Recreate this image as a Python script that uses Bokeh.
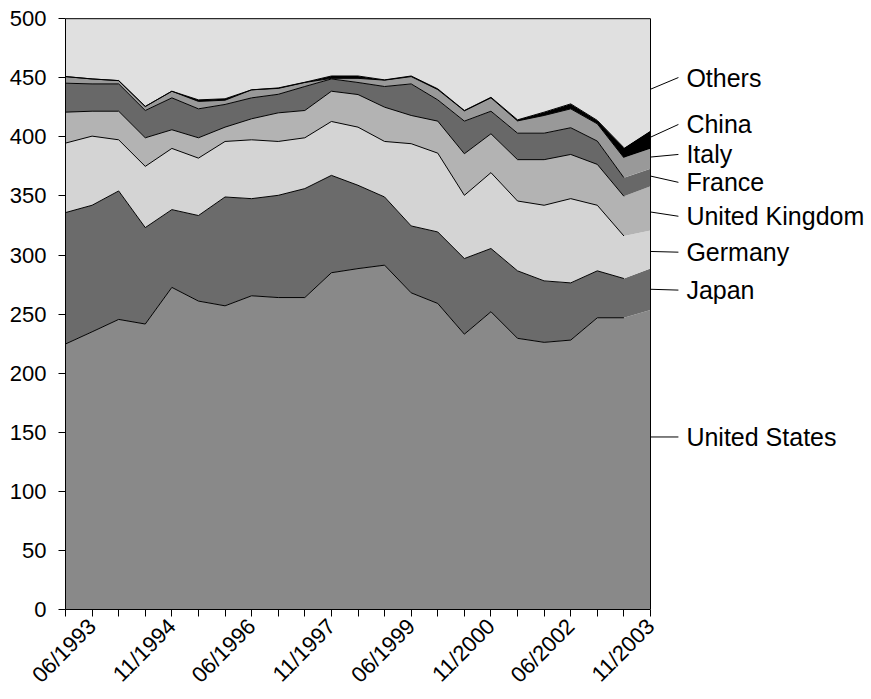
import math
import numpy as np
from bokeh.plotting import figure
from bokeh.models import Range1d, FixedTicker, ColumnDataSource
from bokeh.core.properties import value
from bokeh.embed import file_html
from bokeh.resources import INLINE

# ---- data ----
dates = ["11/1992", "06/1993", "11/1993", "06/1994", "11/1994", "06/1995",
         "11/1995", "06/1996", "11/1996", "06/1997", "11/1997", "06/1998",
         "11/1998", "06/1999", "11/1999", "06/2000", "11/2000", "06/2001",
         "11/2001", "06/2002", "11/2002", "06/2003", "11/2003"]

united_states = [224.7, 235.0, 245.5, 241.6, 272.6, 261.0, 257.0, 265.5, 264.0, 264.0, 285.0, 288.5,
                 291.4, 268.0, 259.0, 233.0, 252.0, 229.5, 226.1, 228.0, 246.9, 246.9, 253.4]
japan = [111.2, 107.1, 108.7, 81.6, 65.8, 72.4, 92.1, 82.2, 86.5, 92.2, 82.4, 70.5,
         57.7, 56.6, 60.5, 64.0, 53.5, 57.1, 52.0, 48.4, 39.7, 33.2, 35.2]
germany = [58.8, 58.5, 43.3, 51.8, 51.8, 48.6, 47.0, 49.8, 45.6, 43.0, 45.6, 49.2,
           47.0, 69.6, 66.7, 53.5, 64.2, 59.1, 64.0, 71.3, 55.5, 36.0, 32.1]
united_kingdom = [26.2, 21.1, 24.2, 24.2, 15.8, 17.2, 12.1, 17.8, 24.2, 23.1, 25.6, 27.6,
                  29.0, 23.9, 27.1, 35.2, 32.9, 35.0, 38.6, 37.4, 34.6, 33.6, 37.5]
france = [24.5, 23.1, 23.1, 23.1, 27.0, 24.5, 19.2, 17.7, 15.7, 20.3, 10.4, 10.2,
          17.5, 26.7, 18.0, 27.6, 19.1, 22.4, 22.4, 22.6, 19.7, 15.7, 14.8]
italy = [5.6, 4.2, 2.8, 3.4, 5.6, 6.3, 3.6, 6.8, 5.0, 3.4, 0.5, 3.5,
         5.4, 6.2, 8.7, 8.7, 11.3, 10.4, 15.0, 16.0, 14.6, 16.9, 16.9]
china = [0.0, 0.0, 0.0, 0.0, 0.0, 1.3, 1.2, 0.0, 0.4, 0.2, 2.0, 2.0,
         0.2, 0.5, 0.6, 0.3, 0.5, 0.9, 2.8, 4.2, 2.9, 8.5, 15.5]
others = [49.0, 51.0, 52.4, 74.3, 61.4, 68.7, 67.8, 60.2, 58.6, 53.8, 48.5, 48.5,
          51.8, 48.5, 59.4, 77.7, 66.5, 85.6, 79.1, 72.1, 86.1, 109.2, 94.6]

series_names = ["United States", "Japan", "Germany", "United Kingdom",
                "France", "Italy", "China", "Others"]
y_ticks = [0, 50, 100, 150, 200, 250, 300, 350, 400, 450, 500]

# ---- layout / style ----
colors = ["#898989", "#6b6b6b", "#d4d4d4", "#b3b3b3",
          "#686868", "#999999", "#000000", "#e0e0e0"]
label_y = [146, 270.3, 302.4, 332.8, 361.5, 385.1, 410.5, 450.2]
leader_y = [146, 271, 303, 336.4, 366.8, 382.9, 399.7, 440.3]
FONT = "Liberation Sans"

keys = ["us", "jp", "de", "uk", "fr", "it", "cn", "ot"]
series = [united_states, japan, germany, united_kingdom, france, italy, china, others]
x = list(range(len(dates)))
src = ColumnDataSource(dict(x=x, **{k: v for k, v in zip(keys, series)}))

n_last = len(dates) - 1
x_end = 806 * n_last / 585.0

p = figure(width=871, height=699, output_backend="svg", toolbar_location=None,
           x_range=Range1d(0, x_end), y_range=Range1d(0, 501),
           min_border_left=65, min_border_top=17, min_border_right=0,
           min_border_bottom=89)
p.outline_line_color = None
p.grid.visible = False
p.background_fill_color = "white"

p.varea_stack(stackers=keys, x="x", color=colors, source=src)

cum = np.cumsum(np.array(series[:-1]), axis=0)
for row in cum:
    p.line(x[:n_last], list(row[:n_last]), line_color="black", line_width=1)

# frame top and right
p.line([0, n_last], [500, 500], line_color="black", line_width=1)
p.line([n_last, n_last], [0, 500], line_color="black", line_width=1)

# leaders + labels
lx0 = n_last
lx1 = n_last + 1.05
tx = n_last + 1.35
p.segment(x0=[lx0] * 8, y0=leader_y, x1=[lx1] * 8, y1=label_y,
          line_color="black", line_width=1)
p.text(x=[tx] * 8, y=label_y, text=series_names, text_align="left",
       text_baseline="middle", text_font=value(FONT), text_font_size="25px",
       text_color="black")

xa = p.xaxis[0]
xa.bounds = (0, n_last)
xa.ticker = FixedTicker(ticks=x)
xa.major_label_overrides = {i: (d if i % 3 == 1 else "") for i, d in enumerate(dates)}
xa.major_label_orientation = math.pi / 4
xa.minor_tick_line_color = None
xa.major_tick_in = 0
xa.major_tick_out = 7
xa.axis_line_color = "black"
xa.major_tick_line_color = "black"
xa.major_label_text_font = FONT
xa.major_label_text_font_size = "22px"
xa.major_label_text_color = "black"
xa.major_label_standoff = 6

ya = p.yaxis[0]
ya.bounds = (0, 500)
ya.ticker = FixedTicker(ticks=y_ticks)
ya.minor_tick_line_color = None
ya.major_tick_in = 0
ya.major_tick_out = 7
ya.axis_line_color = "black"
ya.major_tick_line_color = "black"
ya.major_label_text_font = FONT
ya.major_label_text_font_size = "22px"
ya.major_label_text_color = "black"
ya.major_label_standoff = 12

open("out.html", "w").write(file_html(p, INLINE))
